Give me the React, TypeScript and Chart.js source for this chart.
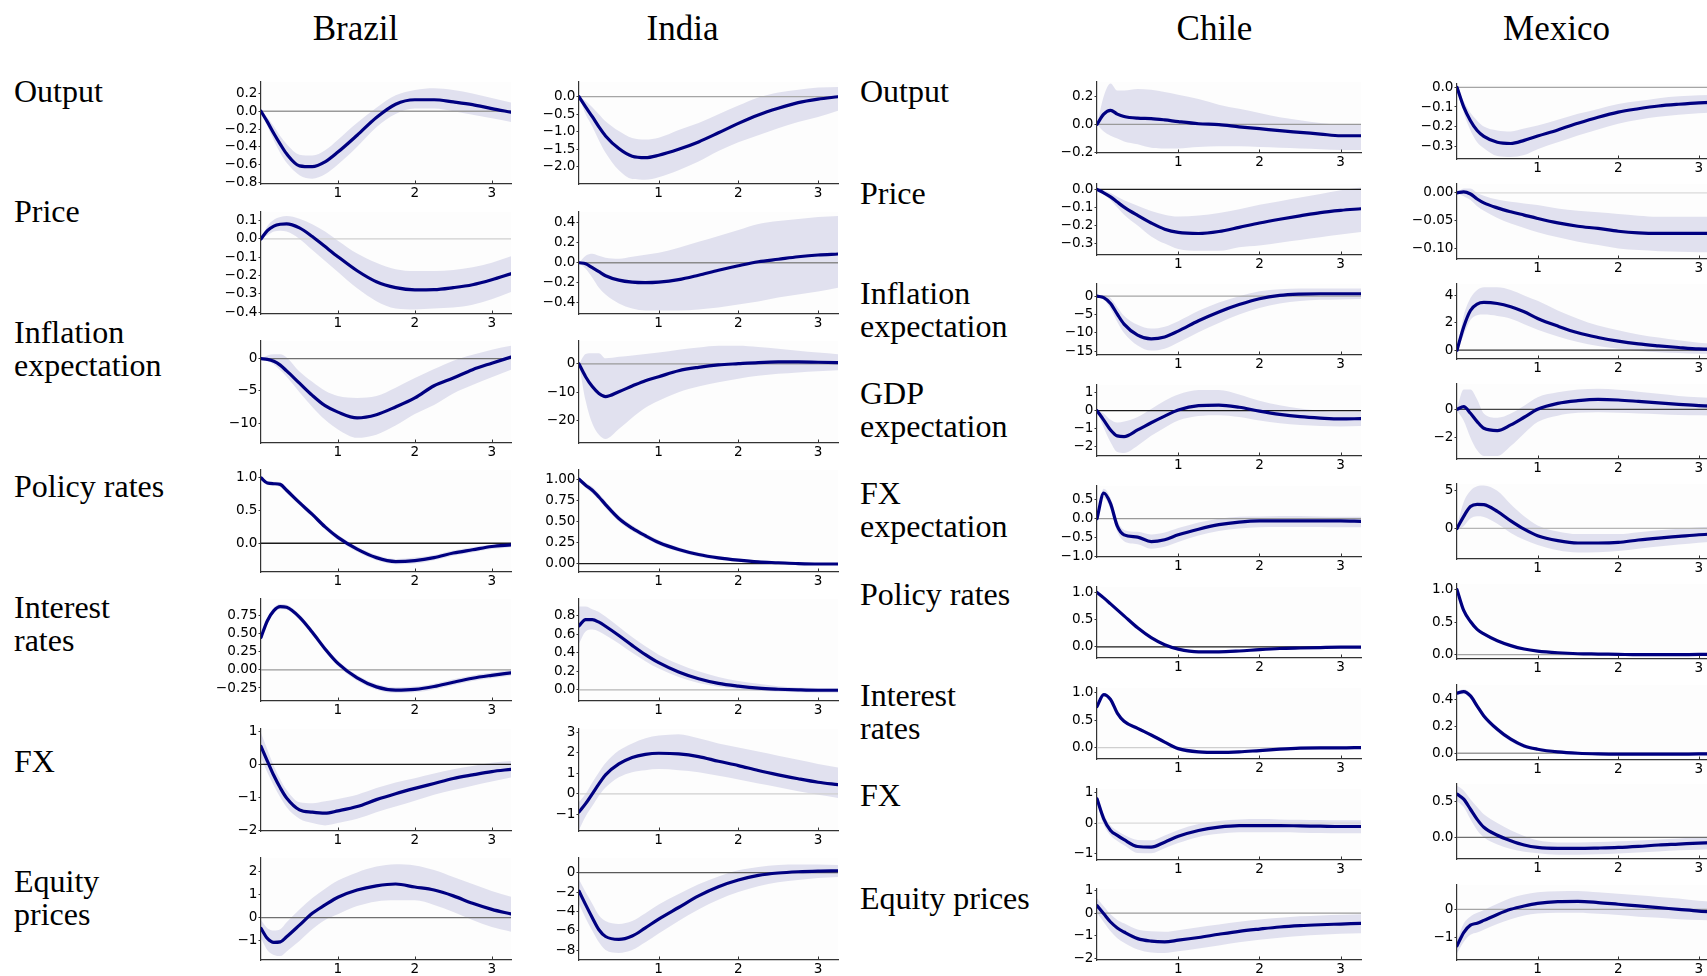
import React, { useEffect, useRef } from "react";
import { Chart, registerables } from "chart.js";

Chart.register(...registerables);

// ---------- horizon (years) and x ticks ----------
const HORIZON = [0, 0.083, 0.167, 0.25, 0.333, 0.5, 0.667, 0.833, 1, 1.25, 1.5, 1.75, 2, 2.25, 2.5, 2.75, 3, 3.25];
const X_TICKS = [1, 2, 3];
const X_MAX = 3.25;

// ---------- labels ----------
const COUNTRIES_LEFT = ["Brazil", "India"];
const COUNTRIES_RIGHT = ["Chile", "Mexico"];
const VARS_LEFT = ["Output", "Price", "Inflation\nexpectation", "Policy rates", "Interest\nrates", "FX", "Equity\nprices"];
const VARS_RIGHT = ["Output", "Price", "Inflation\nexpectation", "GDP\nexpectation", "FX\nexpectation", "Policy rates", "Interest\nrates", "FX", "Equity prices"];

// ---------- Brazil ----------
const BR_OUTPUT_MEAN = [0, -0.12, -0.25, -0.37, -0.48, -0.615, -0.625, -0.57, -0.46, -0.27, -0.07, 0.08, 0.13, 0.13, 0.105, 0.075, 0.03, -0.01];
const BR_OUTPUT_LO = [0, -0.17, -0.33, -0.47, -0.58, -0.72, -0.76, -0.71, -0.6, -0.4, -0.18, -0.03, 0.03, 0.03, 0.0, -0.04, -0.08, -0.12];
const BR_OUTPUT_HI = [0, -0.07, -0.17, -0.28, -0.37, -0.49, -0.5, -0.44, -0.32, -0.13, 0.04, 0.18, 0.24, 0.26, 0.24, 0.2, 0.15, 0.1];
const BR_PRICE_MEAN = [0, 0.045, 0.07, 0.08, 0.082, 0.06, 0.013, -0.042, -0.097, -0.174, -0.234, -0.266, -0.278, -0.277, -0.266, -0.25, -0.223, -0.19];
const BR_PRICE_LO = [0, 0.02, 0.04, 0.045, 0.04, 0.0, -0.06, -0.12, -0.18, -0.27, -0.34, -0.38, -0.385, -0.38, -0.375, -0.36, -0.33, -0.29];
const BR_PRICE_HI = [0, 0.07, 0.105, 0.12, 0.125, 0.11, 0.08, 0.04, -0.01, -0.08, -0.13, -0.165, -0.175, -0.175, -0.17, -0.155, -0.13, -0.095];
const BR_INFL_MEAN = [0, -0.1, -0.4, -1.0, -1.9, -3.8, -5.7, -7.3, -8.3, -9.2, -8.7, -7.5, -6.1, -4.2, -3.0, -1.7, -0.7, 0.25];
const BR_INFL_LO = [0, -0.3, -0.9, -1.8, -2.8, -5.2, -7.5, -9.5, -11.0, -12.3, -11.8, -10.4, -8.6, -7.2, -5.4, -4.1, -2.9, -1.7];
const BR_INFL_HI = [0, 0.5, 0.7, 0.7, 0.2, -2.0, -3.6, -5.0, -5.8, -6.1, -5.8, -4.5, -3.0, -1.6, -0.3, 0.6, 1.4, 2.0];
const BR_POLICY_MEAN = [1.0, 0.92, 0.91, 0.9, 0.81, 0.62, 0.44, 0.25, 0.09, -0.09, -0.22, -0.28, -0.265, -0.22, -0.15, -0.1, -0.05, -0.025];
const BR_POLICY_LO = [0.97, 0.89, 0.88, 0.86, 0.77, 0.58, 0.4, 0.21, 0.05, -0.13, -0.26, -0.32, -0.31, -0.26, -0.19, -0.14, -0.09, -0.06];
const BR_POLICY_HI = [1.03, 0.95, 0.94, 0.93, 0.85, 0.66, 0.48, 0.29, 0.13, -0.05, -0.18, -0.24, -0.22, -0.18, -0.11, -0.06, -0.02, 0.01];
const BR_RATES_MEAN = [0.45, 0.68, 0.82, 0.875, 0.865, 0.73, 0.52, 0.29, 0.09, -0.11, -0.235, -0.28, -0.27, -0.23, -0.17, -0.115, -0.075, -0.04];
const BR_RATES_LO = [0.41, 0.64, 0.79, 0.84, 0.83, 0.69, 0.48, 0.25, 0.05, -0.15, -0.275, -0.32, -0.31, -0.27, -0.21, -0.155, -0.115, -0.08];
const BR_RATES_HI = [0.49, 0.72, 0.86, 0.91, 0.9, 0.77, 0.56, 0.33, 0.13, -0.07, -0.195, -0.24, -0.23, -0.19, -0.13, -0.075, -0.035, 0.0];
const BR_FX_MEAN = [0.54, 0.1, -0.34, -0.71, -1.02, -1.38, -1.45, -1.48, -1.41, -1.28, -1.07, -0.89, -0.73, -0.58, -0.43, -0.32, -0.22, -0.15];
const BR_FX_LO = [0.2, -0.25, -0.65, -1.0, -1.3, -1.65, -1.78, -1.85, -1.78, -1.65, -1.45, -1.28, -1.1, -0.92, -0.78, -0.65, -0.52, -0.4];
const BR_FX_HI = [0.95, 0.45, -0.05, -0.45, -0.78, -1.15, -1.18, -1.12, -1.05, -0.92, -0.72, -0.55, -0.42, -0.28, -0.15, -0.05, 0.05, 0.1];
const BR_EQ_MEAN = [-0.46, -0.89, -1.06, -1.04, -0.82, -0.32, 0.19, 0.55, 0.88, 1.19, 1.37, 1.45, 1.32, 1.19, 0.94, 0.62, 0.36, 0.16];
const BR_EQ_LO = [-0.9, -1.4, -1.6, -1.65, -1.45, -1.0, -0.5, -0.1, 0.15, 0.5, 0.7, 0.75, 0.75, 0.55, 0.25, -0.1, -0.4, -0.6];
const BR_EQ_HI = [-0.1, -0.45, -0.55, -0.5, -0.2, 0.35, 0.85, 1.25, 1.6, 1.95, 2.2, 2.3, 2.25, 2.05, 1.75, 1.45, 1.15, 0.9];

// ---------- India ----------
const IN_OUTPUT_MEAN = [0, -0.29, -0.57, -0.86, -1.12, -1.48, -1.7, -1.74, -1.67, -1.5, -1.29, -1.03, -0.76, -0.52, -0.33, -0.17, -0.07, 0.0];
const IN_OUTPUT_LO = [0, -0.5, -0.85, -1.25, -1.6, -2.1, -2.35, -2.37, -2.3, -2.1, -1.85, -1.55, -1.3, -1.1, -0.9, -0.72, -0.58, -0.4];
const IN_OUTPUT_HI = [0, -0.12, -0.3, -0.5, -0.7, -0.98, -1.18, -1.22, -1.17, -0.95, -0.75, -0.5, -0.25, -0.02, 0.12, 0.2, 0.26, 0.28];
const IN_PRICE_MEAN = [0, -0.01, -0.05, -0.09, -0.13, -0.175, -0.195, -0.2, -0.195, -0.17, -0.125, -0.075, -0.03, 0.01, 0.035, 0.06, 0.078, 0.088];
const IN_PRICE_LO = [0, -0.06, -0.15, -0.25, -0.32, -0.41, -0.46, -0.48, -0.48, -0.48, -0.47, -0.45, -0.42, -0.39, -0.35, -0.32, -0.29, -0.25];
const IN_PRICE_HI = [0, 0.07, 0.09, 0.07, 0.05, 0.04, 0.06, 0.08, 0.1, 0.15, 0.21, 0.27, 0.33, 0.39, 0.42, 0.44, 0.46, 0.47];
const IN_INFL_MEAN = [0, -4.5, -8.0, -10.4, -11.5, -9.8, -7.8, -5.9, -4.5, -2.4, -1.2, -0.35, 0.1, 0.5, 0.7, 0.7, 0.6, 0.5];
const IN_INFL_LO = [0, -13, -21, -25, -26.5, -23, -19, -15.5, -13, -10, -8, -6.5, -5.2, -4.2, -3.5, -3.0, -2.6, -2.2];
const IN_INFL_HI = [0, 3.5, 3.8, 3.8, 2.0, 2.5, 3.0, 3.5, 4.0, 5.0, 5.8, 6.4, 6.4, 6.0, 5.4, 4.7, 4.0, 3.4];
const IN_POLICY_MEAN = [1.0, 0.93, 0.87, 0.79, 0.7, 0.535, 0.42, 0.33, 0.25, 0.167, 0.107, 0.067, 0.04, 0.02, 0.01, 0.0, -0.005, -0.005];
const IN_POLICY_LO = [0.98, 0.9, 0.83, 0.75, 0.66, 0.5, 0.385, 0.3, 0.22, 0.14, 0.082, 0.045, 0.02, 0.005, -0.005, -0.012, -0.015, -0.015];
const IN_POLICY_HI = [1.02, 0.96, 0.91, 0.83, 0.74, 0.57, 0.455, 0.36, 0.28, 0.195, 0.132, 0.09, 0.06, 0.04, 0.025, 0.014, 0.008, 0.008];
const IN_RATES_MEAN = [0.69, 0.757, 0.757, 0.73, 0.686, 0.586, 0.48, 0.38, 0.293, 0.193, 0.12, 0.07, 0.04, 0.018, 0.007, 0.0, -0.004, -0.004];
const IN_RATES_LO = [0.5, 0.63, 0.65, 0.63, 0.59, 0.5, 0.4, 0.31, 0.23, 0.14, 0.075, 0.035, 0.01, -0.01, -0.02, -0.025, -0.03, -0.03];
const IN_RATES_HI = [0.9, 0.9, 0.87, 0.84, 0.79, 0.68, 0.57, 0.47, 0.38, 0.28, 0.2, 0.14, 0.095, 0.065, 0.04, 0.025, 0.02, 0.02];
const IN_FX_MEAN = [-0.89, -0.48, 0.0, 0.48, 0.92, 1.45, 1.77, 1.92, 1.97, 1.94, 1.81, 1.58, 1.37, 1.13, 0.92, 0.73, 0.56, 0.44];
const IN_FX_LO = [-1.75, -1.1, -0.6, -0.1, 0.3, 0.8, 1.05, 1.15, 1.2, 1.15, 1.05, 0.88, 0.7, 0.5, 0.32, 0.12, -0.05, -0.2];
const IN_FX_HI = [-0.4, 0.0, 0.55, 1.05, 1.5, 2.1, 2.45, 2.7, 2.83, 2.9, 2.7, 2.45, 2.25, 2.05, 1.85, 1.65, 1.45, 1.28];
const IN_EQ_MEAN = [-1.9, -3.3, -4.65, -5.9, -6.6, -6.9, -6.55, -5.7, -4.8, -3.6, -2.4, -1.45, -0.76, -0.28, -0.03, 0.1, 0.17, 0.2];
const IN_EQ_LO = [-3.3, -4.7, -6.0, -7.2, -8.0, -8.3, -8.0, -7.2, -6.3, -5.0, -3.8, -2.8, -2.0, -1.4, -1.0, -0.75, -0.55, -0.45];
const IN_EQ_HI = [-0.7, -2.0, -3.2, -4.4, -5.0, -5.3, -5.0, -4.2, -3.3, -2.2, -1.2, -0.4, 0.25, 0.6, 0.8, 0.85, 0.85, 0.8];

// ---------- Chile ----------
const CL_OUTPUT_MEAN = [0, 0.073, 0.1, 0.073, 0.056, 0.044, 0.041, 0.032, 0.02, 0.005, -0.002, -0.017, -0.03, -0.044, -0.056, -0.068, -0.08, -0.08];
const CL_OUTPUT_LO = [0, -0.05, -0.08, -0.1, -0.12, -0.14, -0.165, -0.17, -0.17, -0.16, -0.155, -0.155, -0.16, -0.165, -0.17, -0.175, -0.18, -0.18];
const CL_OUTPUT_HI = [0, 0.2, 0.29, 0.24, 0.24, 0.25, 0.245, 0.23, 0.21, 0.18, 0.14, 0.11, 0.08, 0.05, 0.03, 0.01, 0.0, 0.0];
const CL_PRICE_MEAN = [0, -0.019, -0.041, -0.07, -0.098, -0.144, -0.186, -0.22, -0.238, -0.244, -0.233, -0.21, -0.186, -0.165, -0.146, -0.128, -0.116, -0.107];
const CL_PRICE_LO = [0, -0.03, -0.06, -0.1, -0.14, -0.2, -0.26, -0.3, -0.33, -0.34, -0.34, -0.32, -0.31, -0.295, -0.28, -0.265, -0.25, -0.235];
const CL_PRICE_HI = [0, -0.005, -0.02, -0.04, -0.06, -0.09, -0.12, -0.14, -0.15, -0.145, -0.13, -0.11, -0.085, -0.065, -0.045, -0.025, -0.005, 0.01];
const CL_INFL_MEAN = [0, -0.4, -2.0, -4.9, -7.6, -10.6, -11.6, -11.1, -9.5, -6.7, -4.3, -2.3, -0.7, 0.2, 0.55, 0.65, 0.65, 0.65];
const CL_INFL_LO = [0, -1.0, -3.5, -7.0, -10.0, -13.4, -14.8, -14.3, -12.6, -9.8, -7.3, -5.0, -3.2, -2.0, -1.3, -1.0, -0.9, -0.8];
const CL_INFL_HI = [0, 0.3, -0.5, -3.0, -5.3, -7.8, -8.8, -8.3, -6.8, -4.0, -1.7, 0.0, 1.3, 1.9, 2.1, 2.1, 2.1, 2.1];
const CL_GDPE_MEAN = [0, -0.52, -1.07, -1.4, -1.44, -1.07, -0.67, -0.3, 0.04, 0.28, 0.31, 0.19, -0.02, -0.2, -0.33, -0.41, -0.46, -0.44];
const CL_GDPE_LO = [0, -0.95, -1.75, -2.3, -2.35, -1.95, -1.4, -0.95, -0.55, -0.3, -0.25, -0.35, -0.55, -0.7, -0.8, -0.85, -0.88, -0.85];
const CL_GDPE_HI = [0, -0.15, -0.5, -0.65, -0.6, -0.35, 0.1, 0.55, 0.9, 1.15, 1.15, 0.9, 0.55, 0.3, 0.12, 0.0, -0.05, -0.05];
const CL_FXE_MEAN = [0, 0.68, 0.4, -0.2, -0.43, -0.49, -0.61, -0.56, -0.43, -0.28, -0.16, -0.09, -0.06, -0.06, -0.06, -0.06, -0.06, -0.07];
const CL_FXE_LO = [-0.05, 0.55, 0.25, -0.35, -0.6, -0.68, -0.8, -0.75, -0.62, -0.45, -0.33, -0.26, -0.23, -0.22, -0.22, -0.22, -0.23, -0.23];
const CL_FXE_HI = [0.05, 0.8, 0.55, -0.05, -0.3, -0.35, -0.42, -0.37, -0.25, -0.1, 0.0, 0.05, 0.06, 0.07, 0.07, 0.06, 0.05, 0.05];
const CL_POLICY_MEAN = [1.0, 0.9, 0.79, 0.68, 0.57, 0.35, 0.17, 0.04, -0.04, -0.09, -0.09, -0.075, -0.05, -0.03, -0.02, -0.012, -0.006, -0.006];
const CL_POLICY_LO = [0.98, 0.88, 0.77, 0.66, 0.55, 0.33, 0.15, 0.02, -0.06, -0.11, -0.11, -0.095, -0.07, -0.05, -0.04, -0.03, -0.025, -0.025];
const CL_POLICY_HI = [1.02, 0.92, 0.81, 0.7, 0.59, 0.37, 0.19, 0.06, -0.02, -0.07, -0.07, -0.055, -0.03, -0.01, 0.0, 0.006, 0.012, 0.012];
const CL_RATES_MEAN = [0.75, 0.97, 0.88, 0.63, 0.48, 0.35, 0.23, 0.1, -0.02, -0.08, -0.09, -0.08, -0.055, -0.03, -0.012, -0.006, -0.006, 0.0];
const CL_RATES_LO = [0.72, 0.94, 0.85, 0.6, 0.45, 0.32, 0.2, 0.07, -0.05, -0.11, -0.12, -0.11, -0.085, -0.06, -0.04, -0.035, -0.03, -0.025];
const CL_RATES_HI = [0.78, 1.0, 0.91, 0.66, 0.51, 0.38, 0.26, 0.13, 0.01, -0.05, -0.06, -0.05, -0.025, 0.0, 0.015, 0.02, 0.02, 0.025];
const CL_FX_MEAN = [0.79, 0.14, -0.24, -0.4, -0.54, -0.76, -0.78, -0.62, -0.43, -0.24, -0.13, -0.08, -0.08, -0.08, -0.09, -0.1, -0.11, -0.11];
const CL_FX_LO = [0.65, -0.05, -0.4, -0.58, -0.72, -0.97, -0.98, -0.82, -0.65, -0.45, -0.35, -0.3, -0.3, -0.3, -0.31, -0.32, -0.33, -0.33];
const CL_FX_HI = [0.9, 0.3, -0.08, -0.25, -0.38, -0.55, -0.56, -0.4, -0.22, -0.03, 0.07, 0.12, 0.13, 0.12, 0.11, 0.1, 0.09, 0.09];
const CL_EQ_MEAN = [0.33, -0.03, -0.39, -0.65, -0.83, -1.12, -1.23, -1.26, -1.19, -1.07, -0.93, -0.8, -0.7, -0.61, -0.55, -0.51, -0.48, -0.45];
const CL_EQ_LO = [0.0, -0.4, -0.8, -1.1, -1.3, -1.6, -1.73, -1.75, -1.68, -1.55, -1.42, -1.28, -1.17, -1.08, -1.0, -0.95, -0.91, -0.88];
const CL_EQ_HI = [0.65, 0.3, -0.05, -0.3, -0.45, -0.72, -0.8, -0.82, -0.75, -0.62, -0.5, -0.38, -0.28, -0.2, -0.14, -0.1, -0.07, -0.05];

// ---------- Mexico ----------
const MX_OUTPUT_MEAN = [0, -0.1, -0.17, -0.22, -0.25, -0.28, -0.286, -0.27, -0.248, -0.217, -0.183, -0.152, -0.126, -0.109, -0.095, -0.086, -0.079, -0.076];
const MX_OUTPUT_LO = [0, -0.13, -0.22, -0.28, -0.31, -0.35, -0.355, -0.345, -0.315, -0.28, -0.245, -0.215, -0.185, -0.165, -0.15, -0.14, -0.132, -0.128];
const MX_OUTPUT_HI = [0, -0.07, -0.13, -0.17, -0.2, -0.22, -0.225, -0.21, -0.195, -0.165, -0.135, -0.11, -0.085, -0.07, -0.055, -0.045, -0.04, -0.038];
const MX_PRICE_MEAN = [0, 0.002, -0.002, -0.011, -0.018, -0.027, -0.034, -0.04, -0.046, -0.054, -0.06, -0.064, -0.069, -0.072, -0.073, -0.073, -0.073, -0.073];
const MX_PRICE_LO = [0, -0.006, -0.013, -0.024, -0.032, -0.045, -0.055, -0.063, -0.071, -0.08, -0.088, -0.094, -0.1, -0.103, -0.105, -0.106, -0.107, -0.107];
const MX_PRICE_HI = [0, 0.008, 0.008, 0.0, -0.005, -0.012, -0.016, -0.019, -0.022, -0.028, -0.032, -0.035, -0.038, -0.041, -0.043, -0.043, -0.043, -0.043];
const MX_INFL_MEAN = [0, 1.7, 2.9, 3.37, 3.49, 3.41, 3.17, 2.8, 2.32, 1.76, 1.27, 0.93, 0.66, 0.46, 0.32, 0.2, 0.1, 0.07];
const MX_INFL_LO = [0, 1.1, 2.2, 2.55, 2.6, 2.5, 2.3, 1.9, 1.5, 1.0, 0.6, 0.3, 0.1, -0.05, -0.15, -0.2, -0.25, -0.25];
const MX_INFL_HI = [0, 2.5, 3.8, 4.4, 4.6, 4.6, 4.4, 4.0, 3.6, 2.9, 2.3, 1.8, 1.45, 1.15, 0.92, 0.72, 0.55, 0.45];
const MX_GDPE_MEAN = [0, 0.19, -0.28, -0.87, -1.34, -1.5, -1.1, -0.56, 0.0, 0.42, 0.61, 0.7, 0.66, 0.56, 0.45, 0.35, 0.26, 0.21];
const MX_GDPE_LO = [-0.1, -0.8, -2.0, -2.9, -3.3, -3.3, -2.6, -1.7, -0.9, -0.45, -0.25, -0.2, -0.25, -0.3, -0.35, -0.4, -0.42, -0.44];
const MX_GDPE_HI = [0.1, 1.4, 1.4, 0.7, -0.3, -0.6, -0.3, 0.25, 0.85, 1.2, 1.4, 1.45, 1.38, 1.25, 1.1, 0.95, 0.85, 0.8];
const MX_FXE_MEAN = [0, 1.6, 2.9, 3.2, 3.15, 2.26, 1.0, -0.1, -0.97, -1.63, -1.94, -1.94, -1.86, -1.54, -1.28, -1.06, -0.84, -0.7];
const MX_FXE_LO = [-0.3, 0.3, 1.3, 1.6, 1.5, 0.6, -0.6, -1.5, -2.2, -2.9, -3.2, -3.15, -3.0, -2.7, -2.4, -2.15, -1.9, -1.75];
const MX_FXE_HI = [0.3, 3.5, 5.0, 5.6, 5.7, 5.0, 3.2, 1.6, 0.4, -0.4, -0.75, -0.75, -0.75, -0.5, -0.25, -0.05, 0.15, 0.25];
const MX_POLICY_MEAN = [1.0, 0.68, 0.51, 0.39, 0.32, 0.215, 0.14, 0.087, 0.056, 0.03, 0.015, 0.01, 0.005, 0.0, 0.0, 0.0, 0.005, 0.005];
const MX_POLICY_LO = [0.98, 0.65, 0.48, 0.37, 0.3, 0.195, 0.125, 0.072, 0.043, 0.018, 0.004, -0.002, -0.006, -0.01, -0.01, -0.01, -0.006, -0.006];
const MX_POLICY_HI = [1.02, 0.71, 0.54, 0.41, 0.34, 0.235, 0.155, 0.102, 0.069, 0.042, 0.026, 0.022, 0.016, 0.01, 0.01, 0.01, 0.016, 0.016];
const MX_RATES_MEAN = [0.445, 0.457, 0.425, 0.35, 0.277, 0.178, 0.104, 0.054, 0.03, 0.01, 0.0, -0.005, -0.007, -0.007, -0.007, -0.007, -0.005, -0.005];
const MX_RATES_LO = [0.43, 0.44, 0.405, 0.33, 0.258, 0.16, 0.088, 0.04, 0.017, -0.002, -0.011, -0.015, -0.017, -0.017, -0.017, -0.017, -0.015, -0.015];
const MX_RATES_HI = [0.46, 0.474, 0.445, 0.37, 0.296, 0.196, 0.12, 0.068, 0.043, 0.022, 0.011, 0.005, 0.003, 0.003, 0.003, 0.003, 0.005, 0.005];
const MX_FX_MEAN = [0.6, 0.53, 0.39, 0.25, 0.14, 0.03, -0.046, -0.106, -0.14, -0.153, -0.153, -0.148, -0.14, -0.125, -0.106, -0.093, -0.079, -0.07];
const MX_FX_LO = [0.5, 0.42, 0.25, 0.1, 0.0, -0.1, -0.16, -0.2, -0.22, -0.24, -0.24, -0.235, -0.225, -0.21, -0.195, -0.18, -0.17, -0.16];
const MX_FX_HI = [0.72, 0.65, 0.53, 0.42, 0.32, 0.2, 0.1, 0.02, -0.04, -0.07, -0.07, -0.065, -0.055, -0.045, -0.03, -0.015, 0.0, 0.01];
const MX_EQ_MEAN = [-1.29, -0.82, -0.56, -0.49, -0.39, -0.18, 0.0, 0.12, 0.21, 0.27, 0.28, 0.24, 0.18, 0.12, 0.06, 0.0, -0.06, -0.1];
const MX_EQ_LO = [-1.55, -1.15, -0.9, -0.82, -0.72, -0.52, -0.35, -0.22, -0.15, -0.12, -0.12, -0.16, -0.2, -0.26, -0.3, -0.35, -0.38, -0.4];
const MX_EQ_HI = [-1.1, -0.5, -0.25, -0.12, -0.02, 0.2, 0.4, 0.52, 0.6, 0.64, 0.65, 0.6, 0.55, 0.5, 0.44, 0.38, 0.3, 0.25];

// ---------- styling / layout ----------
const NAVY = "#000080";
const BAND = "rgba(0,0,128,0.11)";
const AXIS = "#333333";
const TICK_COLOR = "#000";
const TICK_FONT = { family: "'DejaVu Sans', sans-serif", size: 13.6 };
const LABEL_FONT = "'Liberation Serif', 'Times New Roman', serif";

const YW = 70; // y-axis room
const PT = 10; // top padding
const PR = 8; // right padding
const XH = 24; // x-axis room

type PanelSpec = {
  mean: number[];
  lo: number[];
  hi: number[];
  yMin: number;
  yMax: number;
  step: number;
  dec: number;
  zero: string;
};

const P = (mean: number[], lo: number[], hi: number[], yMin: number, yMax: number, step: number, dec: number, zero: string): PanelSpec => ({ mean, lo, hi, yMin, yMax, step, dec, zero });

const BRAZIL: PanelSpec[] = [
  P(BR_OUTPUT_MEAN, BR_OUTPUT_LO, BR_OUTPUT_HI, -0.82, 0.33, 0.2, 1, "#9a9a9a"),
  P(BR_PRICE_MEAN, BR_PRICE_LO, BR_PRICE_HI, -0.41, 0.147, 0.1, 1, "#cfcfcf"),
  P(BR_INFL_MEAN, BR_INFL_LO, BR_INFL_HI, -13.1, 2.75, 5, 0, "#707070"),
  P(BR_POLICY_MEAN, BR_POLICY_LO, BR_POLICY_HI, -0.44, 1.12, 0.5, 1, "#1a1a1a"),
  P(BR_RATES_MEAN, BR_RATES_LO, BR_RATES_HI, -0.43, 0.98, 0.25, 2, "#9a9a9a"),
  P(BR_FX_MEAN, BR_FX_LO, BR_FX_HI, -2.02, 1.07, 1, 0, "#1a1a1a"),
  P(BR_EQ_MEAN, BR_EQ_LO, BR_EQ_HI, -1.82, 2.57, 1, 0, "#707070"),
];
const INDIA: PanelSpec[] = [
  P(IN_OUTPUT_MEAN, IN_OUTPUT_LO, IN_OUTPUT_HI, -2.49, 0.42, 0.5, 1, "#a5a5a5"),
  P(IN_PRICE_MEAN, IN_PRICE_LO, IN_PRICE_HI, -0.515, 0.51, 0.2, 1, "#8a8a8a"),
  P(IN_INFL_MEAN, IN_INFL_LO, IN_INFL_HI, -27.9, 8.1, 10, 0, "#9a9a9a"),
  P(IN_POLICY_MEAN, IN_POLICY_LO, IN_POLICY_HI, -0.1, 1.11, 0.25, 2, "#1a1a1a"),
  P(IN_RATES_MEAN, IN_RATES_LO, IN_RATES_HI, -0.12, 0.98, 0.2, 1, "#b5b5b5"),
  P(IN_FX_MEAN, IN_FX_LO, IN_FX_HI, -1.81, 3.15, 1, 0, "#cfcfcf"),
  P(IN_EQ_MEAN, IN_EQ_LO, IN_EQ_HI, -9.03, 1.52, 2, 0, "#5a5a5a"),
];
const CHILE: PanelSpec[] = [
  P(CL_OUTPUT_MEAN, CL_OUTPUT_LO, CL_OUTPUT_HI, -0.202, 0.3, 0.2, 1, "#9a9a9a"),
  P(CL_PRICE_MEAN, CL_PRICE_LO, CL_PRICE_HI, -0.363, 0.03, 0.1, 1, "#1a1a1a"),
  P(CL_INFL_MEAN, CL_INFL_LO, CL_INFL_HI, -16, 3.3, 5, 0, "#a5a5a5"),
  P(CL_GDPE_MEAN, CL_GDPE_LO, CL_GDPE_HI, -2.52, 1.43, 1, 0, "#1a1a1a"),
  P(CL_FXE_MEAN, CL_FXE_LO, CL_FXE_HI, -1.02, 0.87, 0.5, 1, "#9a9a9a"),
  P(CL_POLICY_MEAN, CL_POLICY_LO, CL_POLICY_HI, -0.204, 1.1, 0.5, 1, "#1a1a1a"),
  P(CL_RATES_MEAN, CL_RATES_LO, CL_RATES_HI, -0.21, 1.09, 0.5, 1, "#cfcfcf"),
  P(CL_FX_MEAN, CL_FX_LO, CL_FX_HI, -1.2, 1.11, 1, 0, "#dadada"),
  P(CL_EQ_MEAN, CL_EQ_LO, CL_EQ_HI, -2.06, 1.06, 1, 0, "#9a9a9a"),
];
const MEXICO: PanelSpec[] = [
  P(MX_OUTPUT_MEAN, MX_OUTPUT_LO, MX_OUTPUT_HI, -0.365, 0.017, 0.1, 1, "#a5a5a5"),
  P(MX_PRICE_MEAN, MX_PRICE_LO, MX_PRICE_HI, -0.119, 0.016, 0.05, 2, "#dadada"),
  P(MX_INFL_MEAN, MX_INFL_LO, MX_INFL_HI, -0.64, 4.83, 2, 0, "#333333"),
  P(MX_GDPE_MEAN, MX_GDPE_LO, MX_GDPE_HI, -3.51, 1.79, 2, 0, "#444444"),
  P(MX_FXE_MEAN, MX_FXE_LO, MX_FXE_HI, -4.06, 5.89, 5, 0, "#b5b5b5"),
  P(MX_POLICY_MEAN, MX_POLICY_LO, MX_POLICY_HI, -0.066, 1.087, 0.5, 1, "#a5a5a5"),
  P(MX_RATES_MEAN, MX_RATES_LO, MX_RATES_HI, -0.05, 0.506, 0.2, 1, "#9a9a9a"),
  P(MX_FX_MEAN, MX_FX_LO, MX_FX_HI, -0.3, 0.74, 0.5, 1, "#6e6e6e"),
  P(MX_EQ_MEAN, MX_EQ_LO, MX_EQ_HI, -1.79, 0.86, 1, 0, "#a5a5a5"),
];

const LEFT_TOPS = [82, 212, 341, 470, 599, 729, 858];
const CHILE_TOPS = [82, 184, 284, 385, 486, 587, 688, 789, 889];
const MEXICO_TOPS = [84, 184, 284, 384, 484, 584, 685, 784, 885];

const COLUMNS = [
  { name: COUNTRIES_LEFT[0], specs: BRAZIL, left: 261, width: 250, tops: LEFT_TOPS, height: 102, titleX: 355.5 },
  { name: COUNTRIES_LEFT[1], specs: INDIA, left: 579, width: 259, tops: LEFT_TOPS, height: 102, titleX: 682.5 },
  { name: COUNTRIES_RIGHT[0], specs: CHILE, left: 1097, width: 264, tops: CHILE_TOPS, height: 70.5, titleX: 1214.5 },
  { name: COUNTRIES_RIGHT[1], specs: MEXICO, left: 1457, width: 261.6, tops: MEXICO_TOPS, height: 75, titleX: 1556.5 },
];

const LEFT_LABEL_CAPTOPS = [80.7, 200.7, 321.7, 476, 596.7, 751, 871];
const RIGHT_LABEL_CAPTOPS = [80.7, 183, 282.7, 382.7, 483, 584, 685, 785, 887.7];

const fmt = (v: number, dec: number) => {
  const s = Math.abs(v) < 1e-9 ? (0).toFixed(dec) : v.toFixed(dec);
  return s.replace("-", "\u2212");
};

const inTicks = {
  id: "inTicks",
  afterDraw(chart: any) {
    const { ctx, chartArea, scales } = chart;
    ctx.save();
    ctx.strokeStyle = AXIS;
    ctx.lineWidth = 1;
    X_TICKS.forEach((v) => {
      const px = Math.round(scales.x.getPixelForValue(v)) + 0.5;
      ctx.beginPath();
      ctx.moveTo(px, chartArea.bottom);
      ctx.lineTo(px, chartArea.bottom - 3.5);
      ctx.stroke();
    });
    ctx.restore();
  },
};

const bgPlugin = {
  id: "plotBg",
  beforeDraw(chart: any) {
    const { ctx, chartArea: a } = chart;
    ctx.save();
    ctx.fillStyle = "#fdfdfd";
    ctx.fillRect(a.left, a.top, a.right - a.left, a.bottom - a.top);
    ctx.restore();
  },
};

function Panel({ spec, left, top, width, height }: { spec: PanelSpec; left: number; top: number; width: number; height: number }) {
  const ref = useRef<HTMLCanvasElement>(null);
  const W = Math.round(width + YW + PR);
  const H = Math.round(height + PT + XH);
  useEffect(() => {
    const pts = (arr: number[]) => HORIZON.map((x, i) => ({ x, y: arr[i] }));
    const chart = new Chart(ref.current as HTMLCanvasElement, {
      type: "line",
      data: {
        datasets: [
          { data: pts(spec.lo), borderWidth: 0, borderColor: "rgba(0,0,0,0)", pointRadius: 0, fill: false, order: 3, cubicInterpolationMode: "monotone" },
          { data: pts(spec.hi), borderWidth: 0, borderColor: "rgba(0,0,0,0)", pointRadius: 0, fill: "-1", backgroundColor: BAND, order: 2, cubicInterpolationMode: "monotone" },
          { data: [{ x: 0, y: 0 }, { x: X_MAX, y: 0 }], borderColor: spec.zero, borderWidth: 1.3, pointRadius: 0, fill: false, order: 1 },
          { data: pts(spec.mean), borderColor: NAVY, borderWidth: 3.2, pointRadius: 0, fill: false, order: 0, cubicInterpolationMode: "monotone", borderCapStyle: "round", borderJoinStyle: "round" },
        ],
      } as any,
      options: {
        responsive: false,
        animation: false,
        events: [],
        layout: { padding: { top: PT, right: PR, left: 0, bottom: 0 } },
        plugins: { legend: { display: false }, tooltip: { enabled: false } },
        scales: {
          x: {
            type: "linear",
            min: 0,
            max: X_MAX,
            afterBuildTicks: (ax: any) => {
              ax.ticks = X_TICKS.map((v) => ({ value: v }));
            },
            afterFit: (ax: any) => {
              ax.height = XH;
            },
            grid: { display: true, drawOnChartArea: false, drawTicks: false },
            border: { display: true, color: AXIS, width: 1.2 },
            ticks: { font: TICK_FONT, color: TICK_COLOR, padding: 1, maxRotation: 0, autoSkip: false, callback: (v: any) => String(v) },
          },
          y: {
            type: "linear",
            min: spec.yMin,
            max: spec.yMax,
            afterFit: (ax: any) => {
              ax.width = YW;
            },
            grid: { display: true, drawOnChartArea: false, drawTicks: true, tickLength: 2.5, color: AXIS },
            border: { display: true, color: AXIS, width: 1.2 },
            ticks: { stepSize: spec.step, includeBounds: false, autoSkip: false, font: TICK_FONT, color: TICK_COLOR, padding: 1, callback: (v: any) => fmt(Number(v), spec.dec) },
          },
        },
      } as any,
      plugins: [bgPlugin, inTicks],
    });
    return () => chart.destroy();
  }, []);
  return (
    <div style={{ position: "absolute", left: left - YW, top: top - PT, width: W, height: H }}>
      <canvas ref={ref} width={W} height={H} style={{ display: "block", width: W, height: H }} />
    </div>
  );
}

function RowLabel({ text, x, capTop }: { text: string; x: number; capTop: number }) {
  return (
    <div
      style={{
        position: "absolute",
        left: x,
        top: capTop - 6,
        fontFamily: LABEL_FONT,
        fontSize: 32,
        lineHeight: "33px",
        color: "#000",
        whiteSpace: "pre",
      }}
    >
      {text}
    </div>
  );
}

export default function App() {
  return (
    <div style={{ position: "fixed", left: 0, top: 0, width: 1707, height: 976, overflow: "hidden", background: "#fff" }}>
      {COLUMNS.map((c) => (
        <div
          key={c.name}
          style={{
            position: "absolute",
            left: c.titleX - 100,
            width: 200,
            top: 8.7,
            textAlign: "center",
            fontFamily: LABEL_FONT,
            fontSize: 35,
            lineHeight: "40px",
            color: "#000",
          }}
        >
          {c.name}
        </div>
      ))}
      {VARS_LEFT.map((t, i) => (
        <RowLabel key={"l" + i} text={t} x={14} capTop={LEFT_LABEL_CAPTOPS[i]} />
      ))}
      {VARS_RIGHT.map((t, i) => (
        <RowLabel key={"r" + i} text={t} x={860} capTop={RIGHT_LABEL_CAPTOPS[i]} />
      ))}
      {COLUMNS.map((c) =>
        c.specs.map((s, i) => (
          <Panel key={c.name + i} spec={s} left={c.left} top={c.tops[i]} width={c.width} height={c.height} />
        ))
      )}
    </div>
  );
}
